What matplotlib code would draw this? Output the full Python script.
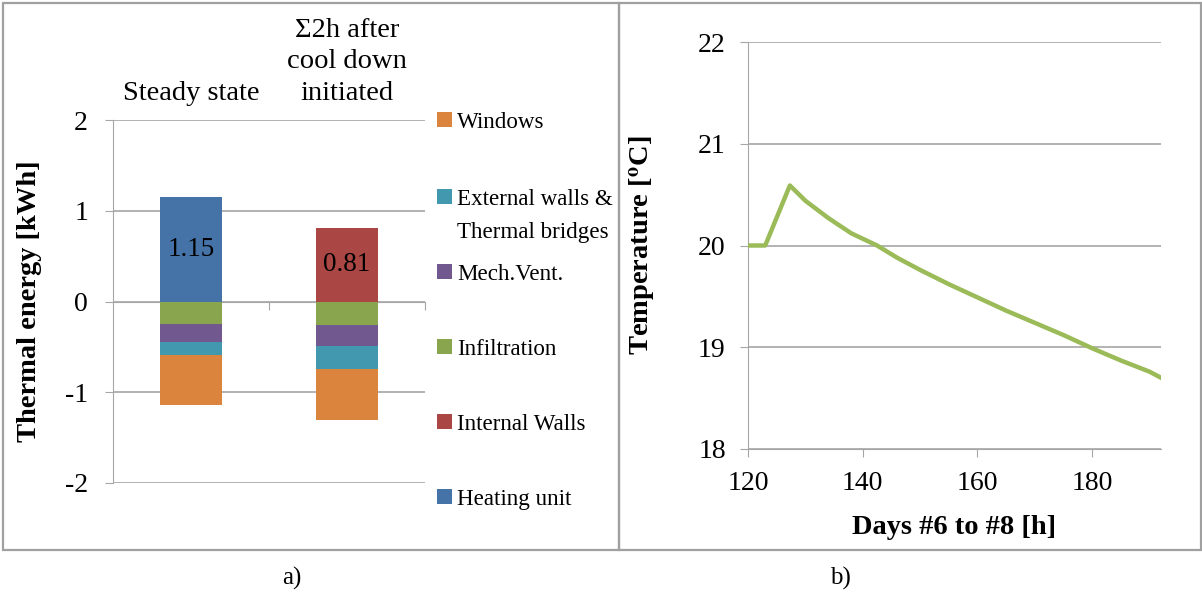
import matplotlib
matplotlib.use("Agg")
import matplotlib.pyplot as plt
from matplotlib.patches import Rectangle
import numpy as np

plt.rcParams['font.family'] = ['Liberation Serif', 'DejaVu Serif']
plt.rcParams['mathtext.fontset'] = 'stix'

# ---- data (panel a) ----
categories = ['Steady state', 'Σ2h after\ncool down\ninitiated']
windows = [-0.55, -0.57]
ext_walls = [-0.15, -0.25]
mech_vent = [-0.20, -0.23]
infiltration = [-0.245, -0.26]
internal_walls = [0.0, 0.81]
heating_unit = [1.15, 0.0]
bar_labels = ['1.15', '0.81']

legend_labels = ['Windows', 'External walls &\nThermal bridges', 'Mech.Vent.',
                 'Infiltration', 'Internal Walls', 'Heating unit']
colors = {'win': '#DB843D', 'ext': '#4198AF', 'mech': '#71588F',
          'inf': '#89A54E', 'int': '#AA4643', 'heat': '#4572A7'}

# ---- data (panel b) ----
hours = [120, 123, 127.3, 130, 134, 138, 142.5, 146, 150, 155, 160, 165, 170,
         175, 180, 185, 190, 192]
temps = [20.0, 20.0, 20.59, 20.44, 20.27, 20.12, 20.0, 19.88, 19.76, 19.62,
         19.49, 19.36, 19.24, 19.12, 18.99, 18.87, 18.76, 18.70]

W, H = 1202, 595
fig = plt.figure(figsize=(W / 100, H / 100), dpi=100)
grid_c = '#A6A6A6'

def fx(px):
    return px / W

def fy(py):
    return 1 - py / H

# frames
fig.add_artist(Rectangle((fx(3), fy(550)), fx(616), 547 / H, fill=False,
                         edgecolor='#A0A0A0', lw=1.6, transform=fig.transFigure))
fig.add_artist(Rectangle((fx(619), fy(550)), fx(582), 547 / H, fill=False,
                         edgecolor='#A0A0A0', lw=1.6, transform=fig.transFigure))

# ---- panel a ----
ax1 = fig.add_axes([fx(113), fy(483), fx(312), (483 - 120) / H])
x = np.arange(len(categories))
bw = 0.4
bottom = np.zeros(len(categories))
for vals, key in [(infiltration, 'inf'), (mech_vent, 'mech'), (ext_walls, 'ext'),
                  (windows, 'win')]:
    v = np.array(vals)
    ax1.bar(x, v, bw, bottom=bottom, color=colors[key], zorder=3)
    bottom = bottom + v
pos_bottom = np.zeros(len(categories))
for vals, key in [(heating_unit, 'heat'), (internal_walls, 'int')]:
    v = np.array(vals)
    ax1.bar(x, v, bw, bottom=pos_bottom, color=colors[key], zorder=3)
    pos_bottom = pos_bottom + v
for i, lab in enumerate(bar_labels):
    ax1.text(x[i], pos_bottom[i] / 2, lab, ha='center', va='center', fontsize=19.5, zorder=4)

ax1.set_xlim(-0.5, 1.5)
ax1.set_ylim(-2, 2)
ax1.set_yticks([-2, -1, 0, 1, 2])
ax1.set_yticklabels(['-2', '-1', '0', '1', '2'])
ax1.yaxis.grid(True, color=grid_c, lw=1.2, zorder=0)
ax1.spines['top'].set_visible(False)
ax1.spines['right'].set_visible(False)
ax1.spines['left'].set_color(grid_c)
ax1.spines['bottom'].set_position(('data', 0))
ax1.spines['bottom'].set_color(grid_c)
ax1.set_xticks([0.5, 1.5])
ax1.set_xticklabels(['', ''])
ax1.tick_params(axis='x', direction='out', length=6, color=grid_c)
ax1.tick_params(axis='y', direction='out', length=6, color=grid_c, labelsize=20, pad=12)
ax1.set_ylabel('Thermal energy [kWh]', fontsize=20.5, fontweight='bold')
ax1.yaxis.set_label_coords(fx(42 - 113) / fx(312), 0.5)

# category labels above the plot (each line placed by its baseline)
line_step = 31.5
for i, c in enumerate(categories):
    lines = c.split('\n')
    n = len(lines)
    for j, ln in enumerate(lines):
        base_px = 100 - (n - 1 - j) * line_step
        ax1.text(x[i], 1 + (120 - base_px) / 363, ln,
                 transform=ax1.get_xaxis_transform(), ha='center',
                 va='baseline', fontsize=20.5)

# legend (manual)
leg_base = [128, 205, 280, 355, 430, 505]
leg_cols = ['win', 'ext', 'mech', 'inf', 'int', 'heat']
for lab, yb, key in zip(legend_labels, leg_base, leg_cols):
    fig.add_artist(Rectangle((fx(437), fy(yb - 1)), fx(15), 15 / H,
                             facecolor=colors[key], edgecolor='none',
                             transform=fig.transFigure))
    for j, ln in enumerate(lab.split('\n')):
        fig.text(fx(457), fy(yb + 33 * j), ln, ha='left', va='baseline',
                 fontsize=16.6)

# ---- panel b ----
ax2 = fig.add_axes([fx(748), fy(449), fx(1161 - 748), (449 - 42) / H])
ax2.plot(hours, temps, color='#9BBB59', lw=3.2, zorder=3, solid_joinstyle='round')
ax2.set_xlim(120, 192)
ax2.set_ylim(18, 22)
ax2.set_xticks([120, 140, 160, 180])
ax2.set_yticks([18, 19, 20, 21, 22])
ax2.yaxis.grid(True, color=grid_c, lw=1.2, zorder=0)
for s in ['top', 'right']:
    ax2.spines[s].set_visible(False)
ax2.spines['left'].set_color(grid_c)
ax2.spines['bottom'].set_color(grid_c)
ax2.tick_params(direction='out', length=6, color=grid_c, labelsize=20, pad=10)
ax2.set_xlabel('Days #6 to #8 [h]', fontsize=20.5, fontweight='bold')
ax2.xaxis.set_label_coords(0.5, -(528 - 449) / 407, transform=ax2.transAxes)
ax2.xaxis.label.set_va('center')
ax2.set_ylabel(r'Temperature [$^\mathbf{o}$C]', fontsize=20.5, fontweight='bold')
ax2.yaxis.set_label_coords(-(748 - 643) / 413, 0.5, transform=ax2.transAxes)
ax2.yaxis.label.set_va('center')

fig.text(fx(292), fy(578), 'a)', ha='center', va='center', fontsize=18)
fig.text(fx(840), fy(578), 'b)', ha='center', va='center', fontsize=18)

fig.savefig('out.png', dpi=100)
